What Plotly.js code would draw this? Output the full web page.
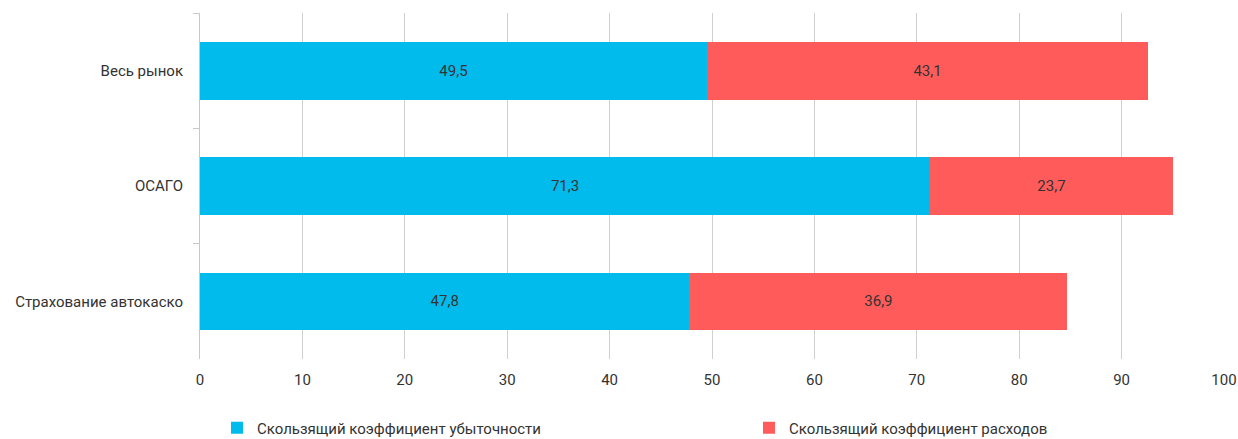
<!DOCTYPE html>
<html>
<head>
<meta charset="utf-8">
<script src="https://cdn.plot.ly/plotly-3.0.1.min.js"></script>
<style>
  html, body { margin: 0; padding: 0; background: #fff; }
  #chart { width: 1238px; height: 439px; }
</style>
</head>
<body>
<div id="chart"></div>
<script>
// Segments of the market, top to bottom
const categories = ['Весь рынок', 'ОСАГО', 'Страхование автокаско'];
// Rolling loss ratio, %
const lossRatio = [49.5, 71.3, 47.8];
// Rolling expense ratio, %
const expenseRatio = [43.1, 23.7, 36.9];
const seriesNames = ['Скользящий коэффициент убыточности', 'Скользящий коэффициент расходов'];
const xTicks = [0, 10, 20, 30, 40, 50, 60, 70, 80, 90, 100];

const FONT = 'Roboto, "Open Sans", sans-serif';
const TEXT = '#333333';

function barTrace(values, name, color, legendId) {
  return {
    type: 'bar',
    orientation: 'h',
    y: categories,
    x: values,
    name: name,
    legend: legendId,
    marker: { color: color },
    texttemplate: '%{x:.1f}',
    textposition: 'inside',
    insidetextanchor: 'middle',
    constraintext: 'none',
    textfont: { family: FONT, size: 15, color: TEXT },
    hoverinfo: 'x+name'
  };
}

const data = [
  barTrace(lossRatio, seriesNames[0], '#00BBEC', 'legend'),
  barTrace(expenseRatio, seriesNames[1], '#FF5B5B', 'legend2')
];

// Both legends sit in the bottom strip of the page, outside the plot area
const legendBase = {
  orientation: 'h',
  xref: 'container',
  yref: 'container',
  y: 0.025,
  yanchor: 'middle',
  xanchor: 'left',
  itemwidth: 30,
  bgcolor: 'rgba(0,0,0,0)',
  font: { family: FONT, size: 15, color: TEXT }
};

const layout = {
  width: 1238,
  height: 439,
  margin: { l: 200, r: 14, t: 13, b: 80 },
  barmode: 'stack',
  bargap: 0.5,
  separators: ', ',
  paper_bgcolor: '#ffffff',
  plot_bgcolor: '#ffffff',
  font: { family: FONT, size: 15, color: TEXT },
  xaxis: {
    range: [0, 100],
    tickvals: xTicks,
    ticktext: xTicks.map(String),
    showgrid: true,
    gridcolor: '#d0d0d0',
    gridwidth: 1,
    zeroline: false,
    showline: false,
    ticks: '',
    ticklabelstandoff: 10,
    automargin: false,
    tickfont: { family: FONT, size: 15, color: TEXT },
    fixedrange: true
  },
  yaxis: {
    autorange: 'reversed',
    showline: true,
    linecolor: '#c8c8c8',
    linewidth: 1,
    ticks: 'outside',
    tickson: 'boundaries',
    ticklen: 6,
    tickcolor: '#c8c8c8',
    showgrid: false,
    ticklabelstandoff: 13,
    automargin: false,
    tickfont: { family: FONT, size: 15, color: TEXT },
    fixedrange: true
  },
  showlegend: true,
  legend: Object.assign({}, legendBase, { x: 0.1753 }),
  legend2: Object.assign({}, legendBase, { x: 0.605 })
};

Plotly.newPlot('chart', data, layout, { displayModeBar: false, staticPlot: true });
</script>
</body>
</html>
